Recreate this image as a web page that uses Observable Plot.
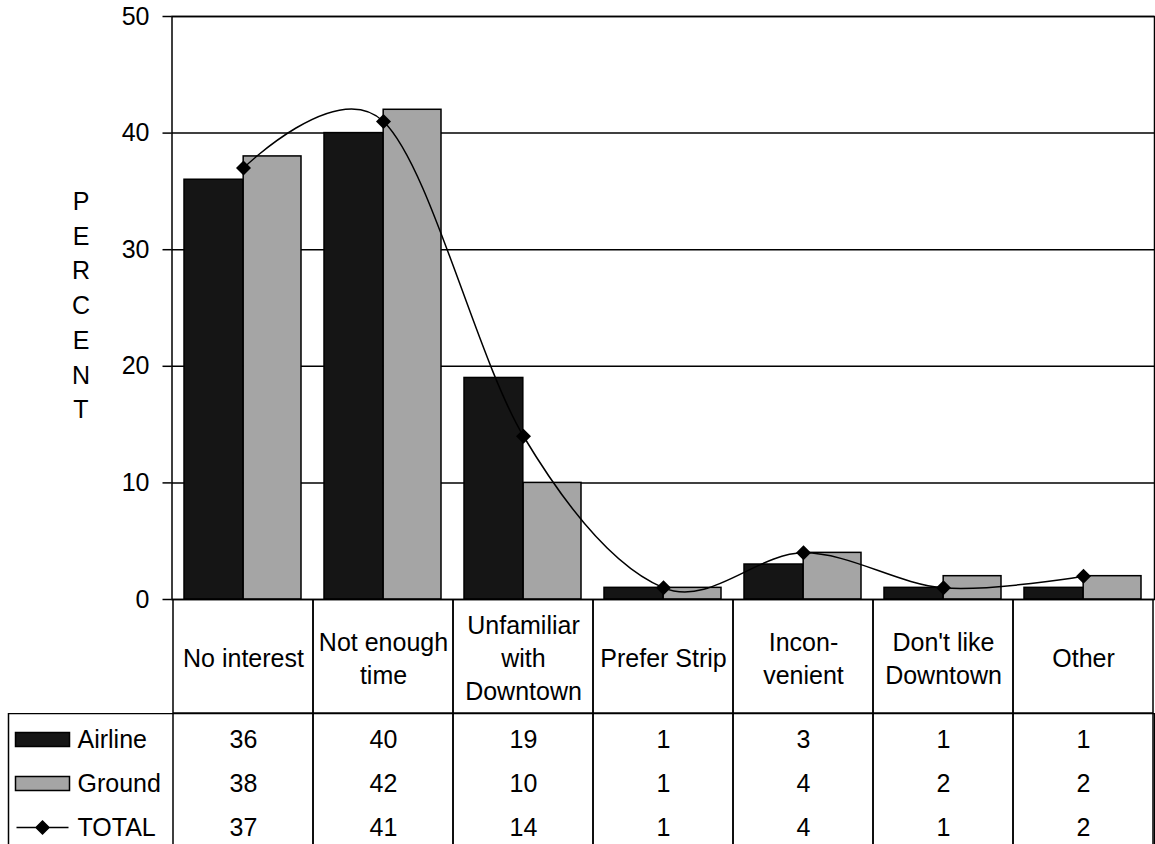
<!DOCTYPE html>
<html>
<head>
<meta charset="utf-8">
<script src="https://cdn.jsdelivr.net/npm/d3@7"></script>
<script src="https://cdn.jsdelivr.net/npm/@observablehq/plot@0.6"></script>
<style>
  html, body { margin: 0; padding: 0; background: white; }
  #chart { width: 1155px; font-family: "Liberation Sans", Arial, sans-serif; }
  #chart svg { display: block; }
  [aria-label="y-axis"] .tick line, [aria-label="y-axis tick"] { stroke-width: 1.5; }
</style>
</head>
<body>
<div id="chart"></div>
<script>
// Reasons for not visiting Downtown, by respondent group (percent)
const categories = ["No interest", "Not enough time", "Unfamiliar with Downtown", "Prefer Strip", "Inconvenient", "Don't like Downtown", "Other"];
const categoryLabels = ["No interest", "Not enough\ntime", "Unfamiliar\nwith\nDowntown", "Prefer Strip", "Incon-\nvenient", "Don't like\nDowntown", "Other"];
const airline = [36, 40, 19, 1, 3, 1, 1];
const ground = [38, 42, 10, 1, 4, 2, 2];
const total = [37, 41, 14, 1, 4, 1, 2];
const seriesNames = ["Airline", "Ground", "TOTAL"];
const yTicks = [0, 10, 20, 30, 40, 50];
const axisTitle = "PERCENT";

const rows = categories.map((c, i) => ({category: c, label: categoryLabels[i], airline: airline[i], ground: ground[i], total: total[i]}));
const tableRows = [];
rows.forEach(r => {
  tableRows.push({category: r.category, series: "Airline", value: r.airline});
  tableRows.push({category: r.category, series: "Ground", value: r.ground});
  tableRows.push({category: r.category, series: "TOTAL", value: r.total});
});

const W = 1155;
const left = 171.5;
const right = 1;
const band = (W - left - right) / categories.length;
const half = band / 2;
const font = "'Liberation Sans', Arial, sans-serif";
const darkFill = "#151515";
const lightFill = "#a5a5a5";

// Filled diamond marker for the TOTAL series
const diamond = {
  draw(ctx) {
    const r = 7.5;
    ctx.moveTo(0, -r); ctx.lineTo(r, 0); ctx.lineTo(0, r); ctx.lineTo(-r, 0); ctx.closePath();
  }
};
// Legend keys
const swatch = {
  draw(ctx) { ctx.rect(-27, -7, 54, 14); }
};
const lineKey = {
  draw(ctx) {
    ctx.moveTo(-26, 0); ctx.lineTo(26, 0);
    const r = 6.5;
    ctx.moveTo(0, -r); ctx.lineTo(r, 0); ctx.lineTo(0, r); ctx.lineTo(-r, 0); ctx.closePath();
  }
};

const baseStyle = {fontFamily: font, fontSize: "25px", color: "black", background: "none"};

// Bars + smoothed total line
const chart = Plot.plot({
  width: W,
  height: 599,
  marginLeft: left,
  marginRight: right,
  marginTop: 16,
  marginBottom: 0,
  style: {...baseStyle, overflow: "visible"},
  x: {domain: categories, padding: 0, axis: null},
  y: {domain: [0, 50], ticks: yTicks, tickSize: 9, tickPadding: 13.5, label: null},
  marks: [
    Plot.ruleY(yTicks, {stroke: "black", strokeWidth: 1.5}),
    Plot.barY(rows, {x: "category", y: "airline", fill: darkFill, stroke: "black", strokeWidth: 1.5, insetLeft: 11, insetRight: half}),
    Plot.barY(rows, {x: "category", y: "ground", fill: lightFill, stroke: "black", strokeWidth: 1.5, insetLeft: half, insetRight: 12}),
    Plot.line(rows, {x: "category", y: "total", curve: "cardinal", tension: 0, stroke: "black", strokeWidth: 1.5}),
    Plot.dot(rows, {x: "category", y: "total", symbol: diamond, fill: "black", stroke: "none", r: 6}),
    Plot.frame({stroke: "black", strokeWidth: 1.5}),
    Plot.text([axisTitle], {text: d => d.split("").join("\n"), frameAnchor: "left", dx: -91, dy: -5, lineHeight: 1.39, textAnchor: "middle"})
  ]
});

// Category header row of the data table
const header = Plot.plot({
  width: W,
  height: 114,
  marginLeft: left,
  marginRight: right,
  marginTop: 0,
  marginBottom: 0,
  style: baseStyle,
  x: {domain: categories, padding: 0, axis: null},
  marks: [
    Plot.cell(rows, {x: "category", fill: "none", stroke: "black", strokeWidth: 1.5}),
    Plot.text(rows, {x: "category", text: "label", lineHeight: 1.32, lineAnchor: "middle"})
  ]
});

// Value rows with legend keys
const table = Plot.plot({
  width: W,
  height: 132,
  marginLeft: 8,
  marginRight: right,
  marginTop: 0,
  marginBottom: 0,
  style: baseStyle,
  x: {type: "band", domain: categories, range: [left, W - right], padding: 0, axis: null},
  y: {type: "band", domain: seriesNames, padding: 0, axis: null},
  marks: [
    Plot.frame({stroke: "black", strokeWidth: 1.5}),
    Plot.cell(rows, {x: "category", fill: "none", stroke: "black", strokeWidth: 1.5}),
    Plot.text(tableRows, {x: "category", y: "series", text: "value", dy: 4}),
    Plot.dot(["Airline"], {y: d => d, frameAnchor: "left", dx: 34, dy: 4, symbol: swatch, fill: darkFill, stroke: "black", strokeWidth: 1.5}),
    Plot.dot(["Ground"], {y: d => d, frameAnchor: "left", dx: 34, dy: 4, symbol: swatch, fill: lightFill, stroke: "black", strokeWidth: 1.5}),
    Plot.dot(["TOTAL"], {y: d => d, frameAnchor: "left", dx: 34, dy: 4, symbol: lineKey, fill: "black", stroke: "black", strokeWidth: 1.5}),
    Plot.text(seriesNames, {y: d => d, text: d => d, frameAnchor: "left", textAnchor: "start", dx: 69, dy: 4})
  ]
});

const root = document.getElementById("chart");
root.append(chart, header, table);
</script>
</body>
</html>
